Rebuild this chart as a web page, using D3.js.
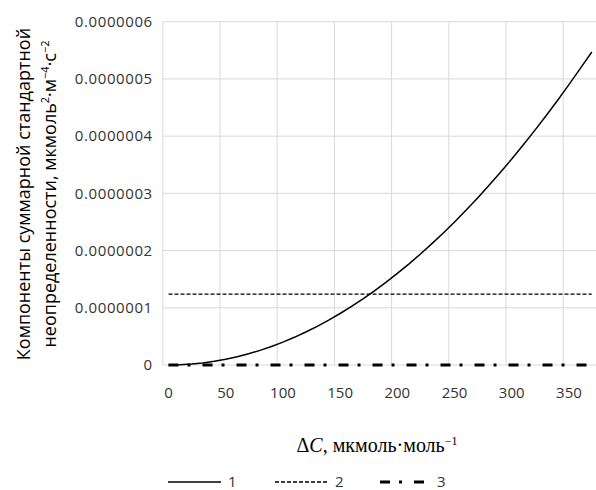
<!DOCTYPE html>
<html>
<head>
<meta charset="utf-8">
<script src="https://cdn.jsdelivr.net/npm/d3@7"></script>
<style>
  body { margin: 0; background: #fff; }
  svg { display: block; }
  .tick text { font-family: "Open Sans", sans-serif; font-size: 15px; fill: #333; }
  .yax .tick text { letter-spacing: 0.6px; }
</style>
</head>
<body>
<script>
(function(){

//categories (ΔC, мкмоль·моль-1)
var categories = [0, 10, 20, 30, 40, 50, 60, 70, 80, 90, 100, 110, 120, 130, 140, 150, 160, 170, 180,
    190, 200, 210, 220, 230, 240, 250, 260, 270, 280, 290, 300, 310, 320, 330, 340, 350, 360, 370];

//series 1 (solid)
var series1 = [0, 0.004e-7, 0.016e-7, 0.036e-7, 0.064e-7, 0.10e-7, 0.144e-7, 0.196e-7, 0.256e-7, 0.324e-7,
    0.40e-7, 0.484e-7, 0.576e-7, 0.676e-7, 0.784e-7, 0.90e-7, 1.024e-7, 1.156e-7, 1.296e-7, 1.444e-7,
    1.60e-7, 1.764e-7, 1.936e-7, 2.116e-7, 2.304e-7, 2.50e-7, 2.704e-7, 2.916e-7, 3.136e-7, 3.364e-7,
    3.60e-7, 3.844e-7, 4.096e-7, 4.356e-7, 4.624e-7, 4.90e-7, 5.184e-7, 5.47e-7];

//series 2 (dashed), constant level
var series2 = categories.map(function(){ return 1.24e-7; });

//series 3 (dash-dot), lies on zero
var series3 = categories.map(function(){ return 0; });

var xLabels = [0, 50, 100, 150, 200, 250, 300, 350];
var yTicks = [0, 1e-7, 2e-7, 3e-7, 4e-7, 5e-7, 6e-7];
var yLabels = ["0", "0.0000001", "0.0000002", "0.0000003", "0.0000004", "0.0000005", "0.0000006"];
var legendNames = ["1", "2", "3"];

var width = 596, height = 490;
var left = 162.8, top = 21.7, bottom = 365;

var svg = d3.select("body").append("svg")
    .attr("width", width)
    .attr("height", height);

//category axis like the spreadsheet one: points sit in the middle of each band
var x = d3.scaleBand()
    .domain(categories)
    .range([left, left + categories.length * 11.44])
    .padding(0);

var y = d3.scaleLinear()
    .domain([0, 6e-7])
    .range([bottom, top]);

var cx = function(v){ return x(v) + x.bandwidth() / 2; };

//gridlines
svg.append("g").selectAll("line.h")
    .data(yTicks)
    .enter().append("line")
    .attr("x1", left).attr("x2", width)
    .attr("y1", function(d){ return y(d); })
    .attr("y2", function(d){ return y(d); })
    .attr("stroke", "#d9d9d9").attr("stroke-width", 1);

svg.append("g").selectAll("line.v")
    .data(xLabels)
    .enter().append("line")
    .attr("x1", function(d){ return x(d); })
    .attr("x2", function(d){ return x(d); })
    .attr("y1", top).attr("y2", bottom)
    .attr("stroke", "#d9d9d9").attr("stroke-width", 1);

//axes (labels only)
var yAxis = d3.axisLeft(y)
    .tickValues(yTicks)
    .tickSize(0)
    .tickPadding(10)
    .tickFormat(function(d, i){ return yLabels[i]; });
svg.append("g")
    .attr("class", "yax")
    .attr("transform", "translate(" + left + ",0)")
    .call(yAxis)
    .call(function(g){ g.select(".domain").remove(); });

var xAxis = d3.axisBottom(x)
    .tickValues(xLabels)
    .tickSize(0)
    .tickPadding(22);
svg.append("g")
    .attr("transform", "translate(0," + bottom + ")")
    .call(xAxis)
    .call(function(g){ g.select(".domain").remove(); });

//lines
var line = d3.line()
    .x(function(d){ return cx(d[0]); })
    .y(function(d){ return y(d[1]); });

var styles = [
    {data: series1, dash: null, w: 1.5},
    {data: series2, dash: "4,2", w: 1.3},
    {data: series3, dash: "10,9,3,12", w: 3}
];

styles.slice().reverse().forEach(function(s){
    svg.append("path")
        .datum(categories.map(function(c, i){ return [c, s.data[i]]; }))
        .attr("fill", "none")
        .attr("stroke", "#000")
        .attr("stroke-width", s.w)
        .attr("stroke-dasharray", s.dash)
        .attr("d", line);
});

//x axis title
var xt = svg.append("text")
    .attr("x", 377).attr("y", 452)
    .attr("text-anchor", "middle")
    .style("font-family", "'Liberation Serif', 'Times New Roman', serif")
    .style("font-size", "20px")
    .attr("fill", "#000");
xt.append("tspan").text("\u0394");
xt.append("tspan").style("font-style", "italic").text("C");
xt.append("tspan").text(", мкмоль\u00b7моль");
xt.append("tspan").attr("dy", -7).style("font-size", "12px").text("\u22121");

//y axis title (two rotated lines)
var yt = svg.append("g")
    .attr("transform", "translate(0,194) rotate(-90)")
    .style("font-family", "'Open Sans', sans-serif")
    .style("font-size", "18px")
    .attr("fill", "#000");
yt.append("text")
    .attr("x", 0).attr("y", 30)
    .attr("text-anchor", "middle")
    .text("Компоненты суммарной стандартной");
var l2 = yt.append("text")
    .attr("x", 0).attr("y", 56)
    .attr("text-anchor", "middle");
l2.append("tspan").text("неопределенности, мкмоль");
l2.append("tspan").attr("dy", -7).style("font-size", "11px").text("2");
l2.append("tspan").attr("dy", 7).text("\u00b7м");
l2.append("tspan").attr("dy", -7).style("font-size", "11px").text("\u22124");
l2.append("tspan").attr("dy", 7).text("\u00b7с");
l2.append("tspan").attr("dy", -7).style("font-size", "11px").text("\u22122");

//legend
var legX = [168, 275, 380];
var legend = svg.append("g").selectAll("g")
    .data(styles)
    .enter().append("g")
    .attr("transform", function(d, i){ return "translate(" + legX[i] + ",482)"; });
legend.append("line")
    .attr("x1", 0).attr("x2", function(d, i){ return i === 2 ? 47 : 53; })
    .attr("stroke", "#000")
    .attr("stroke-width", function(d){ return d.w; })
    .attr("stroke-dasharray", function(d){ return d.dash; });
legend.append("text")
    .attr("x", function(d, i){ return i === 2 ? 57 : 60; })
    .attr("y", 5)
    .style("font-family", "'Open Sans', sans-serif")
    .style("font-size", "15px")
    .attr("fill", "#333")
    .text(function(d, i){ return legendNames[i]; });

})();
</script>
</body>
</html>
